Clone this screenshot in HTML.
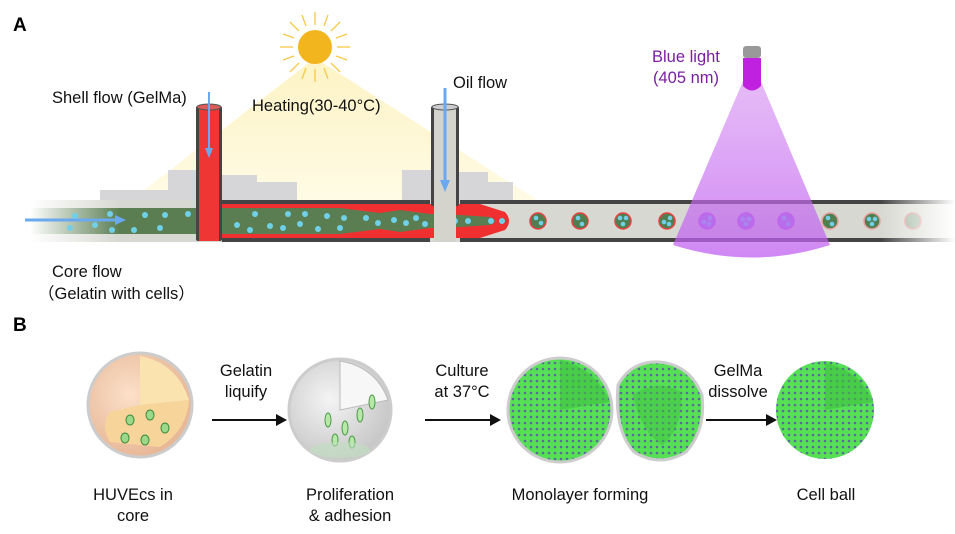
<!DOCTYPE html>
<html><head><meta charset="utf-8"><style>
html,body{margin:0;padding:0;background:#fff}
svg{display:block}
text{font-family:"Liberation Sans",Arial,sans-serif}
</style></head><body>
<svg width="955" height="534" viewBox="0 0 955 534" xmlns="http://www.w3.org/2000/svg">
<defs>
<linearGradient id="yl" x1="0" y1="0" x2="0" y2="1"><stop offset="0" stop-color="#fdf3c4"/><stop offset="1" stop-color="#fffbe6"/></linearGradient>
<linearGradient id="pc" x1="0" y1="0" x2="0" y2="1"><stop offset="0" stop-color="#d080f0" stop-opacity="0.5"/><stop offset="1" stop-color="#c060f0" stop-opacity="0.75"/></linearGradient>
<linearGradient id="fadeL" x1="0" y1="0" x2="1" y2="0"><stop offset="0" stop-color="#fff" stop-opacity="1"/><stop offset="1" stop-color="#fff" stop-opacity="0"/></linearGradient>
<linearGradient id="fadeR" x1="0" y1="0" x2="1" y2="0"><stop offset="0" stop-color="#fff" stop-opacity="0"/><stop offset="1" stop-color="#fff" stop-opacity="1"/></linearGradient>
<radialGradient id="s1" cx="0.4" cy="0.4" r="0.6"><stop offset="0" stop-color="#fbe0c8"/><stop offset="1" stop-color="#e8b898"/></radialGradient>
<radialGradient id="s2" cx="0.4" cy="0.4" r="0.6"><stop offset="0" stop-color="#f4f4f4"/><stop offset="1" stop-color="#c8c8c8"/></radialGradient>
<pattern id="dots" width="6" height="6" patternUnits="userSpaceOnUse"><rect width="6" height="6" fill="#55e055"/><circle cx="3" cy="3" r="1.3" fill="#5a6a9a"/></pattern>
</defs>

<text x="13" y="31" font-size="19" font-weight="bold">A</text>
<text x="13" y="331" font-size="19" font-weight="bold">B</text>

<polygon points="315,58 125,205 545,205" fill="url(#yl)"/>
<g stroke="#f7c948" stroke-width="1.3">
<line x1="315" y1="12" x2="315" y2="25"/><line x1="315" y1="69" x2="315" y2="82"/>
<line x1="280" y1="47" x2="293" y2="47"/><line x1="337" y1="47" x2="350" y2="47"/>
<line x1="290" y1="22" x2="299" y2="31"/><line x1="331" y1="63" x2="340" y2="72"/>
<line x1="340" y1="22" x2="331" y2="31"/><line x1="299" y1="63" x2="290" y2="72"/>
<line x1="302" y1="15" x2="306" y2="26"/><line x1="328" y1="15" x2="324" y2="26"/>
<line x1="302" y1="79" x2="306" y2="68"/><line x1="328" y1="79" x2="324" y2="68"/>
<line x1="283" y1="34" x2="294" y2="38"/><line x1="347" y1="34" x2="336" y2="38"/>
<line x1="283" y1="60" x2="294" y2="56"/><line x1="347" y1="60" x2="336" y2="56"/>
</g>
<circle cx="315" cy="47" r="17" fill="#f2b51e"/>

<g fill="#d6d6d8">
<rect x="100" y="190" width="70" height="15"/><rect x="168" y="170" width="30" height="35"/>
<rect x="222" y="175" width="35" height="30"/><rect x="255" y="182" width="42" height="23"/>
<rect x="402" y="170" width="31" height="35"/><rect x="458" y="172" width="30" height="33"/>
<rect x="488" y="182" width="25" height="23"/>
</g>

<rect x="30" y="200" width="925" height="42" fill="#d8d8d2"/>
<rect x="222" y="200" width="733" height="4" fill="#444"/>
<rect x="222" y="238" width="733" height="4" fill="#444"/>
<rect x="430" y="200" width="30" height="4" fill="#d8d8d2"/>
<rect x="430" y="238" width="30" height="4" fill="#d8d8d2"/>
<path d="M196,204 L480,204 L505,212 Q513,221 505,230 L480,238 L196,238 Z" fill="#f03030"/>
<path d="M30,208 L196,208 L340,208 L380,213 L400,210 L430,214 L460,215 L490,217 Q500,221 490,225 L460,227 L430,228 L400,232 L380,229 L340,234 L30,234 Z" fill="#5a7e52"/>
<rect x="30" y="200" width="90" height="42" fill="url(#fadeL)"/>
<line x1="25" y1="220" x2="115" y2="220" stroke="#6aa8ef" stroke-width="3"/>
<polygon points="115,215 126,220 115,225" fill="#6aa8ef"/>
<g fill="#6fd0e8">
<circle cx="75" cy="216" r="3"/><circle cx="110" cy="214" r="3"/><circle cx="70" cy="228" r="3"/><circle cx="95" cy="225" r="3"/>
<circle cx="112" cy="230" r="3"/><circle cx="134" cy="230" r="3"/><circle cx="145" cy="215" r="3"/><circle cx="160" cy="228" r="3"/>
<circle cx="165" cy="215" r="3"/><circle cx="188" cy="214" r="3"/><circle cx="200" cy="230" r="3"/><circle cx="210" cy="226" r="3"/>
<circle cx="215" cy="214" r="3"/><circle cx="237" cy="225" r="3"/><circle cx="250" cy="230" r="3"/><circle cx="255" cy="214" r="3"/>
<circle cx="270" cy="226" r="3"/><circle cx="283" cy="228" r="3"/><circle cx="288" cy="214" r="3"/><circle cx="300" cy="224" r="3"/>
<circle cx="305" cy="214" r="3"/><circle cx="318" cy="229" r="3"/><circle cx="327" cy="216" r="3"/><circle cx="340" cy="228" r="3"/>
<circle cx="344" cy="218" r="3"/><circle cx="366" cy="218" r="3"/><circle cx="378" cy="223" r="3"/><circle cx="394" cy="220" r="3"/>
<circle cx="406" cy="223" r="3"/><circle cx="416" cy="218" r="3"/><circle cx="425" cy="224" r="3"/><circle cx="437" cy="221" r="3"/>
<circle cx="455" cy="221" r="3"/><circle cx="468" cy="221" r="3"/><circle cx="491" cy="221" r="3"/><circle cx="502" cy="221" r="3"/>
</g>

<g>
<g fill="#4f7f50" stroke="#e84040" stroke-width="1.5">
<circle cx="538" cy="221" r="8"/><circle cx="580" cy="221" r="8"/><circle cx="623" cy="221" r="8"/><circle cx="667" cy="221" r="8"/>
<circle cx="830" cy="221" r="8" stroke="#e8a0a0"/><circle cx="872" cy="221" r="8" stroke="#e8a0a0"/><circle cx="913" cy="221" r="8" opacity="0.4"/>
</g>
<g fill="#9a80e0" stroke="#c060e0" stroke-width="1.5"><circle cx="707" cy="221" r="8"/><circle cx="746" cy="221" r="8"/><circle cx="786" cy="221" r="8"/></g>
<g fill="#6fd0e8">
<circle cx="536" cy="218" r="2.3"/><circle cx="541" cy="223" r="2.3"/><circle cx="578" cy="218" r="2.3"/><circle cx="582" cy="224" r="2.3"/>
<circle cx="620" cy="218" r="2.3"/><circle cx="626" cy="218" r="2.3"/><circle cx="623" cy="224" r="2.3"/>
<circle cx="664" cy="222" r="2.3"/><circle cx="670" cy="218" r="2.3"/><circle cx="669" cy="224" r="2.3"/>
<circle cx="704" cy="222" r="2.3"/><circle cx="710" cy="218" r="2.3"/><circle cx="709" cy="224" r="2.3"/>
<circle cx="743" cy="219" r="2.3"/><circle cx="749" cy="219" r="2.3"/><circle cx="746" cy="224" r="2.3"/>
<circle cx="784" cy="218" r="2.3"/><circle cx="788" cy="224" r="2.3"/>
<circle cx="828" cy="218" r="2.3"/><circle cx="832" cy="224" r="2.3"/>
<circle cx="869" cy="219" r="2.3"/><circle cx="875" cy="219" r="2.3"/><circle cx="872" cy="224" r="2.3"/>
</g>
</g>
<rect x="880" y="198" width="75" height="46" fill="url(#fadeR)"/>

<rect x="196" y="106" width="26" height="135" fill="#444" rx="2"/>
<rect x="199" y="106" width="20" height="135" fill="#f03535"/>
<ellipse cx="209" cy="107" rx="12" ry="3" fill="#e05a5a" stroke="#555"/>
<line x1="209" y1="92" x2="209" y2="150" stroke="#6aa8ef" stroke-width="2"/>
<polygon points="205,148 209,158 213,148" fill="#6aa8ef"/>
<rect x="431" y="106" width="28" height="100" fill="#444" rx="2"/>
<rect x="434" y="106" width="22" height="136" fill="#d4d4cc"/>
<ellipse cx="445" cy="107" rx="13" ry="3" fill="#ccc" stroke="#555"/>
<line x1="445" y1="88" x2="445" y2="182" stroke="#6aa8ef" stroke-width="3"/>
<polygon points="440,180 445,192 450,180" fill="#6aa8ef"/>

<path d="M752,60 L830,245 Q752,270 673,245 Z" fill="url(#pc)"/>
<rect x="743" y="46" width="18" height="12" rx="3" fill="#999"/>
<path d="M743,58 L761,58 L761,86 Q752,95 743,86 Z" fill="#c020e0"/>

<g font-size="16.5" fill="#111">
<text x="52" y="103">Shell flow (GelMa)</text>
<text x="252" y="111">Heating(30-40°C)</text>
<text x="453" y="88">Oil flow</text>
<text x="52" y="277">Core flow</text>
<text x="38" y="299">（Gelatin with cells）</text>
</g>
<g font-size="16.5" fill="#7a1fa0"><text x="652" y="62">Blue light</text><text x="653" y="83">(405 nm)</text></g>

<circle cx="140" cy="405" r="52" fill="url(#s1)" stroke="#ccc" stroke-width="3"/>
<path d="M140,405 L140,356 Q177,363 189,400 Z" fill="#fbe3b0"/>
<path d="M140,405 L189,400 Q187,430 160,447 L110,442 Q100,425 110,412 Z" fill="#f7d59a"/>
<g fill="#9bd88a" stroke="#3a8a3a" stroke-width="1"><ellipse cx="130" cy="420" rx="4" ry="5"/><ellipse cx="150" cy="415" rx="4" ry="5"/><ellipse cx="165" cy="428" rx="4" ry="5"/><ellipse cx="125" cy="438" rx="4" ry="5"/><ellipse cx="145" cy="440" rx="4" ry="5"/></g>

<circle cx="340" cy="410" r="51" fill="url(#s2)" stroke="#ccc" stroke-width="3"/>
<path d="M340,410 L340,361 Q376,367 388,400 Z" fill="#f7f7f7" stroke="#bbb"/>
<g fill="#b8e8a8" stroke="#4a9a4a" stroke-width="1"><ellipse cx="328" cy="420" rx="3" ry="7"/><ellipse cx="345" cy="428" rx="3" ry="7"/><ellipse cx="360" cy="415" rx="3" ry="7"/><ellipse cx="335" cy="440" rx="3" ry="6"/><ellipse cx="352" cy="442" rx="3" ry="6"/><ellipse cx="372" cy="402" rx="3" ry="7"/></g>
<ellipse cx="340" cy="450" rx="30" ry="8" fill="#bfe0bf" opacity="0.6"/>

<circle cx="560" cy="410" r="52" fill="url(#dots)" stroke="#ccc" stroke-width="3"/>
<path d="M560,410 L560,360 Q595,368 610,402 Z" fill="#3fbf3f" opacity="0.6"/>
<path d="M618,385 Q632,360 660,362 Q690,365 702,395 Q706,430 686,452 Q660,468 634,452 Q614,430 618,385 Z" fill="url(#dots)" stroke="#ccc" stroke-width="3"/>
<path d="M633,395 Q657,378 681,392 Q683,430 662,445 Q640,430 633,395 Z" fill="#3fbf3f" opacity="0.5"/>

<circle cx="825" cy="410" r="49" fill="url(#dots)"/>
<path d="M825,410 L825,363 Q860,370 873,402 Z" fill="#3fbf3f" opacity="0.6"/>

<g stroke="#111" stroke-width="2"><line x1="212" y1="420" x2="278" y2="420"/><line x1="425" y1="420" x2="492" y2="420"/><line x1="706" y1="420" x2="768" y2="420"/></g>
<g fill="#111"><polygon points="276,414 287,420 276,426"/><polygon points="490,414 501,420 490,426"/><polygon points="766,414 777,420 766,426"/></g>

<g font-size="16.5" fill="#111" text-anchor="middle">
<text x="246" y="376">Gelatin</text><text x="246" y="397">liquify</text>
<text x="462" y="376">Culture</text><text x="462" y="397">at 37°C</text>
<text x="738" y="376">GelMa</text><text x="738" y="397">dissolve</text>
<text x="133" y="500">HUVEcs in</text><text x="133" y="521">core</text>
<text x="350" y="500">Proliferation</text><text x="350" y="521">&amp; adhesion</text>
<text x="580" y="500">Monolayer forming</text>
<text x="826" y="500">Cell ball</text>
</g>
</svg>
</body></html>
